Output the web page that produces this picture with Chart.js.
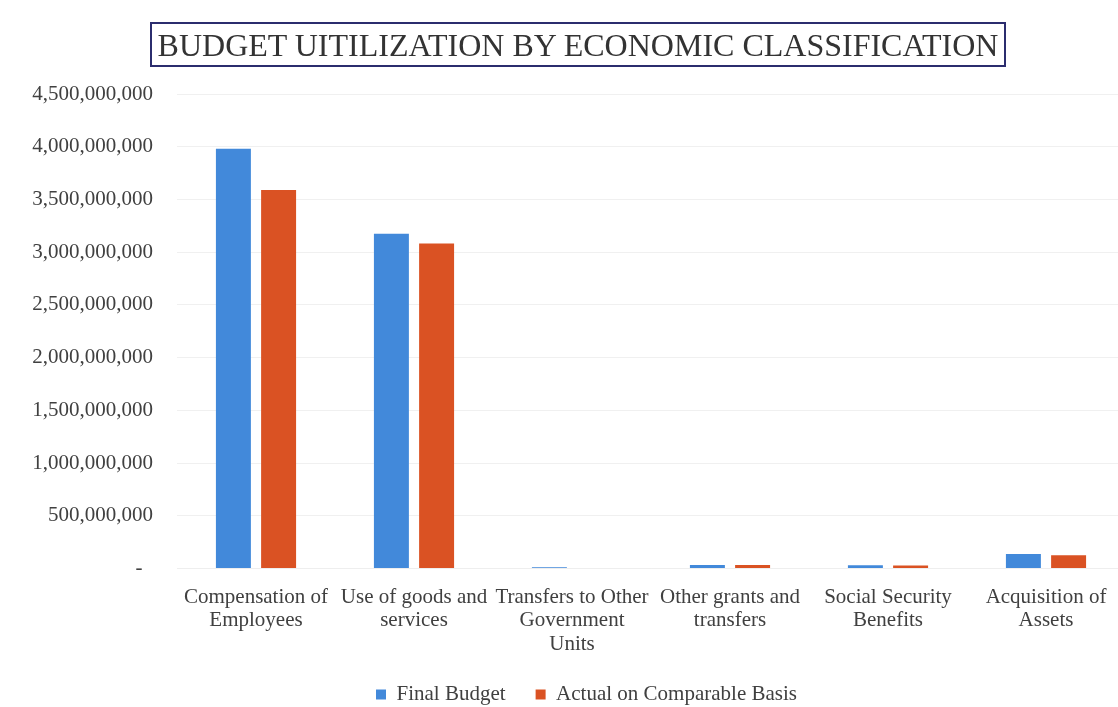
<!DOCTYPE html>
<html>
<head>
<meta charset="utf-8">
<script src="https://cdn.jsdelivr.net/npm/chart.js@4.4.1/dist/chart.umd.min.js"></script>
<style>
  html, body { margin: 0; padding: 0; background: #fff; overflow: hidden; }
  #wrap { position: relative; width: 1118px; height: 707px; overflow: hidden; }
  #box { position: absolute; left: 0; top: 0; width: 1184px; height: 715px; }
  #title {
    position: absolute; left: 150px; top: 22px; width: 852px; height: 41px;
    border: 2px solid #2b2d6e; box-sizing: content-box;
    font-family: "Liberation Serif", "Times New Roman", serif; font-size: 32px;
    color: #333; text-align: center; line-height: 43px; white-space: nowrap;
  }
</style>
</head>
<body>
<div id="wrap">
  <div id="box"><canvas id="chart"></canvas></div>
  <div id="title">BUDGET UITILIZATION BY ECONOMIC CLASSIFICATION</div>
</div>
<script>
const categories = [
  ['Compensation of', 'Employees'],
  ['Use of goods and', 'services'],
  ['Transfers to Other', 'Government', 'Units'],
  ['Other grants and', 'transfers'],
  ['Social Security', 'Benefits'],
  ['Acquisition of', 'Assets']
];
const finalBudget = [3980000000, 3175000000, 12000000, 33000000, 31000000, 138000000];
const actualBasis = [3590000000, 3083000000, 0, 33000000, 27000000, 125000000];

const serif = '"Liberation Serif", "Times New Roman", serif';

// nudge legend to the right so it sits where the original one does
const legendShift = {
    id: 'legendShift',
    afterLayout(chart) {
        if (chart.legend) {
            chart.legend.left += 24;
            chart.legend.right += 24;
        }
    }
};

new Chart(document.getElementById('chart'), {
    type: 'bar',
    data: {
        labels: categories,
        datasets: [
            {
                label: 'Final Budget',
                data: finalBudget,
                backgroundColor: '#4289da',
                categoryPercentage: 0.572,
                barPercentage: 0.774
            },
            {
                label: 'Actual on Comparable Basis',
                data: actualBasis,
                backgroundColor: '#da5223',
                categoryPercentage: 0.572,
                barPercentage: 0.774
            }
        ]
    },
    plugins: [legendShift],
    options: {
        responsive: true,
        maintainAspectRatio: false,
        animation: false,
        layout: { padding: { top: 94, right: 59, left: 0, bottom: 0 } },
        plugins: {
            tooltip: { enabled: false },
            legend: {
                position: 'bottom',
                labels: {
                    boxWidth: 10, boxHeight: 10, padding: 30,
                    color: '#404040',
                    font: { family: serif, size: 21 }
                }
            }
        },
        scales: {
            x: {
                afterFit: (scale) => { scale.height -= 11; },
                grid: { display: false },
                border: { display: true, color: '#eeeeee' },
                ticks: {
                    color: '#404040', padding: 9, maxRotation: 0, autoSkip: false,
                    font: { family: serif, size: 21, lineHeight: 1.12 }
                }
            },
            y: {
                min: 0,
                max: 4500000000,
                afterFit: (scale) => { scale.width = 177; },
                grid: { color: '#f0f0f0', drawTicks: false },
                border: { display: false },
                ticks: {
                    stepSize: 500000000,
                    padding: 24,
                    color: '#404040',
                    font: { family: serif, size: 21 },
                    callback: (v) => v === 0 ? '-  ' : v.toLocaleString('en-US')
                }
            }
        }
    }
});
</script>
</body>
</html>
